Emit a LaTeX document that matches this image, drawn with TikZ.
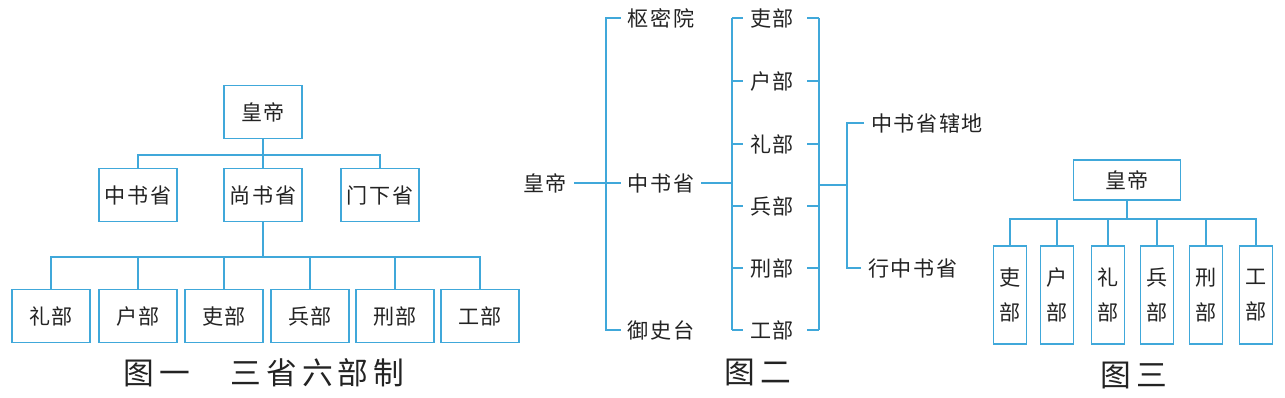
\documentclass[tikz,border=0pt]{standalone}
\usepackage{fontspec}
\newfontfamily\cjk[LetterSpace=7]{Noto Sans CJK SC}
\newfontfamily\cjkcap[LetterSpace=16]{Noto Sans CJK SC}
\usetikzlibrary{positioning}
\definecolor{LineBlue}{RGB}{64,168,218}
\definecolor{InkGray}{RGB}{35,35,35}

\begin{document}
\begin{tikzpicture}[x=0.02cm, y=-0.02cm,
  box/.style={draw=LineBlue, line width=1pt, text=InkGray, inner sep=0pt,
              minimum width=1.57cm, minimum height=1.06cm,
              font=\cjk\fontsize{12}{14}\selectfont},
  vbox/.style={draw=LineBlue, line width=1pt, text=InkGray, inner sep=0pt,
               minimum width=0.66cm, minimum height=1.96cm, align=center,
               font=\cjk\fontsize{12}{20}\selectfont},
  lbl/.style={text=InkGray, inner sep=0.14cm, font=\cjk\fontsize{12}{14}\selectfont},
  figcap/.style={text=InkGray, inner sep=0pt, font=\cjkcap\fontsize{17.5}{20}\selectfont},
  link/.style={draw=LineBlue, line width=1pt}]
\useasboundingbox (0,0) rectangle (1285,397);

% ---- Figure 1: three departments, six ministries ----
\node[box] (hd1) at (263,112) {皇帝};
\node[box] (zs1) at (138,195) {中书省};
\node[box] (ss1) at (263,195) {尚书省};
\node[box] (mx1) at (380,195) {门下省};
\coordinate (t1) at (263,155);
\draw[link] (hd1.south) -- (t1);
\draw[link] (zs1.north) |- (t1) -| (mx1.north);
\draw[link] (ss1.north) -- (t1);
\foreach \n/\x/\t in {1/51/礼部, 2/138/户部, 3/224/吏部, 4/310/兵部, 5/395/刑部, 6/480/工部}{
  \node[box] (a\n) at (\x,316) {\t};
}
\coordinate (t2) at (263,257);
\draw[link] (ss1.south) -- (t2);
\foreach \n in {1,...,6}{
  \draw[link] (a\n.north) |- (t2);
}
\node[figcap] (cap1) at (264,373) {图一　三省六部制};

% ---- Figure 2: Yuan central and local offices ----
\node[lbl] (hd2) at (545,183) {皇帝};
\node[lbl] (sm2) at (661,18) {枢密院};
\node[lbl] (zs2) at (661,183) {中书省};
\node[lbl] (ys2) at (661,330) {御史台};
\coordinate (k1) at (606,183);
\draw[link] (hd2.east) -- (zs2.west);
\draw[link] (sm2.west) -| (k1);
\draw[link] (ys2.west) -| (k1);
\foreach \n/\y/\t in {1/18/吏部, 2/81/户部, 3/144/礼部, 4/206/兵部, 5/268/刑部, 6/330/工部}{
  \node[lbl] (m\n) at (772,\y) {\t};
}
\coordinate (bl) at (732,183);
\coordinate (br) at (819,185);
\foreach \n in {1,...,6}{
  \draw[link] (m\n.west) -- (m\n.west -| bl);
  \draw[link, shorten <=0.12cm] (m\n.east) -- (m\n.east -| br);
}
\draw[link] (m1.west -| bl) -- (m6.west -| bl);
\draw[link] (m1.east -| br) -- (m6.east -| br);
\draw[link] (zs2.east) -- (bl);
\coordinate (cr) at (847,185);
\draw[link] (br) -- (cr);
\node[lbl, anchor=west] (xd2) at (864,123) {中书省辖地};
\node[lbl, anchor=west] (xz2) at (861,268) {行中书省};
\draw[link] (xd2.west) -| (cr);
\draw[link] (xz2.west) -| (cr);
\node[figcap] (cap2) at (758,372) {图二};

% ---- Figure 3: emperor over six ministries ----
\node[box, minimum width=2.14cm, minimum height=0.8cm] (hd3) at (1127,180) {皇帝};
\foreach \n/\x/\t in {1/1010/吏, 2/1057/户, 3/1108/礼, 4/1157/兵, 5/1206/刑, 6/1256/工}{
  \node[vbox] (d\n) at (\x,295) {\t\\部};
}
\coordinate (t3) at (1127,219);
\draw[link] (hd3.south) -- (t3);
\foreach \n in {1,...,6}{
  \draw[link] (d\n.north) |- (t3);
}
\node[figcap] (cap3) at (1134,375) {图三};

\end{tikzpicture}
\end{document}
